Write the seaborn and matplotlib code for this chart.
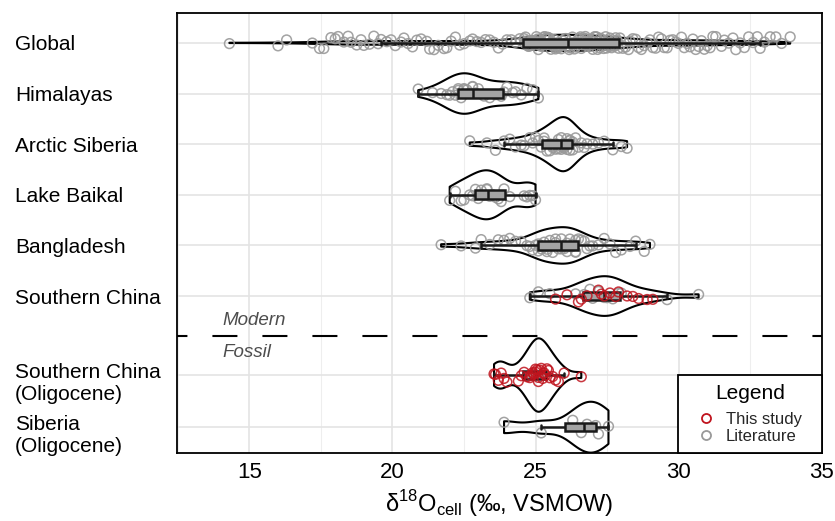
import numpy as np
import pandas as pd
import matplotlib
matplotlib.use("Agg")
import matplotlib.pyplot as plt
from matplotlib.lines import Line2D
from matplotlib.patches import Rectangle
from matplotlib.ticker import MultipleLocator
import seaborn as sns

# d18O of cellulose (permil, VSMOW)
regions = ["Global", "Himalayas", "Arctic Siberia", "Lake Baikal", "Bangladesh",
           "Southern China", "Southern China\n(Oligocene)", "Siberia\n(Oligocene)"]

global_lit = [
    14.3, 16.0, 16.3, 17.2, 17.45, 17.6, 17.85, 18.0, 18.1, 18.3, 18.45, 18.55, 18.75, 18.9,
    19.0, 19.2, 19.35, 19.5, 19.6, 19.8, 19.95, 20.1, 20.3, 20.4, 20.55, 20.7, 20.85, 21.0,
    21.2, 21.3, 21.45, 21.6, 21.8, 21.9, 22.05, 22.2, 22.35, 22.5, 22.7, 22.8, 22.95, 23.1,
    23.25, 23.4, 23.55, 23.7, 23.85, 24.0, 24.15, 24.3, 24.45,
    24.6, 24.62, 24.65, 24.68, 24.7, 24.73, 24.76, 24.8, 24.82, 24.85, 24.88, 24.9, 24.94,
    24.97, 25.0, 25.03, 25.06, 25.1, 25.12, 25.15, 25.18, 25.2, 25.24, 25.27, 25.3, 25.33,
    25.36, 25.4, 25.42, 25.45, 25.48, 25.5, 25.54, 25.57, 25.6, 25.63, 25.66, 25.7, 25.72,
    25.75, 25.78, 25.8, 25.84, 25.87, 25.9, 25.93, 25.96, 26.0, 26.03, 26.06, 26.1,
    26.15, 26.18, 26.22, 26.25, 26.29, 26.32, 26.36, 26.4, 26.43, 26.46, 26.5, 26.53, 26.57,
    26.6, 26.64, 26.67, 26.7, 26.74, 26.78, 26.81, 26.85, 26.88, 26.92, 26.95, 27.0, 27.03,
    27.06, 27.1, 27.13, 27.17, 27.2, 27.24, 27.27, 27.31, 27.35, 27.38, 27.42, 27.45, 27.49,
    27.52, 27.56, 27.6, 27.63, 27.66, 27.7, 27.73, 27.77, 27.8, 27.84, 27.87, 27.9,
    27.95, 28.05, 28.15, 28.25, 28.3, 28.4, 28.5, 28.6, 28.7, 28.8, 28.9, 29.0, 29.1, 29.2,
    29.3, 29.4, 29.5, 29.6, 29.7, 29.8, 29.9, 30.0, 30.1, 30.2, 30.3, 30.4, 30.5, 30.6, 30.7,
    30.8, 30.9, 31.0, 31.1, 31.2, 31.3, 31.5, 31.6, 31.75, 31.9, 32.0, 32.15, 32.3, 32.45,
    32.6, 32.75, 32.85, 33.0, 33.2, 33.4, 33.6, 33.9,
]
himalayas_lit = [
    20.9, 21.4, 21.7, 21.9, 22.0, 22.1, 22.2, 22.3, 22.3, 22.4, 22.5, 22.5, 22.6, 22.7, 22.8,
    22.8, 22.9, 23.0, 23.2, 23.4, 23.6, 23.8, 23.9, 24.0, 24.2, 24.3, 24.5, 24.7, 24.9, 25.1,
]
arctic_siberia_lit = [
    22.7, 23.3, 23.6, 23.9, 24.1, 24.3, 24.5, 24.6, 24.8, 24.9, 25.0, 25.1, 25.2, 25.3, 25.3,
    25.4, 25.5, 25.5, 25.6, 25.6, 25.7, 25.7, 25.8, 25.8, 25.9, 25.9, 25.9, 26.0, 26.0, 26.0,
    26.0, 26.1, 26.1, 26.1, 26.2, 26.2, 26.2, 26.3, 26.3, 26.4, 26.5, 26.6, 26.7, 26.8, 27.0,
    27.2, 27.4, 27.7, 28.0, 28.2,
]
lake_baikal_lit = [
    22.0, 22.2, 22.4, 22.5, 22.7, 22.8, 22.9, 23.0, 23.1, 23.2, 23.3, 23.3, 23.4, 23.5, 23.6,
    23.7, 23.8, 23.9, 24.1, 24.6, 24.7, 24.8, 24.9, 25.0,
]
bangladesh_lit = [
    21.7, 22.4, 22.9, 23.1, 23.4, 23.7, 23.9, 24.1, 24.3, 24.5, 24.7, 24.8, 24.9, 25.0,
    25.1, 25.1, 25.2, 25.2, 25.3, 25.3, 25.4, 25.4, 25.5, 25.5, 25.6, 25.7, 25.7, 25.8,
    25.9, 25.9, 26.0, 26.0, 26.0, 26.1, 26.1, 26.2, 26.2, 26.3, 26.3, 26.4, 26.4, 26.4,
    26.5, 26.6, 26.7, 26.8, 26.9, 27.0, 27.2, 27.4, 27.6, 27.8, 28.0, 28.3, 28.5, 28.8, 29.0,
]
south_china_lit = [24.8, 25.1, 25.5, 26.4, 26.7, 26.9, 27.0, 27.2, 27.4, 27.5, 27.7, 27.9, 28.0, 29.6, 30.7]
south_china_study = [25.7, 26.1, 26.5, 26.6, 26.8, 27.2, 27.3, 27.4, 27.6, 27.8, 27.9, 28.2, 28.4, 28.6, 28.9, 29.1]
south_china_olig_study = [
    23.55, 23.6, 23.7, 23.8, 23.9, 24.0, 24.4, 24.5, 24.6, 24.7, 24.8, 24.85, 24.9, 24.95, 25.0,
    25.0, 25.05, 25.1, 25.1, 25.15, 25.2, 25.25, 25.3, 25.35, 25.4, 25.45, 25.5, 25.6, 25.7, 25.8,
    26.0, 26.6,
]
siberia_olig_lit = [23.9, 25.2, 26.3, 26.6, 26.8, 27.1, 27.2, 27.55]

groups = [
    ("Global", "Literature", global_lit),
    ("Himalayas", "Literature", himalayas_lit),
    ("Arctic Siberia", "Literature", arctic_siberia_lit),
    ("Lake Baikal", "Literature", lake_baikal_lit),
    ("Bangladesh", "Literature", bangladesh_lit),
    ("Southern China", "Literature", south_china_lit),
    ("Southern China", "This study", south_china_study),
    ("Southern China\n(Oligocene)", "This study", south_china_olig_study),
    ("Siberia\n(Oligocene)", "Literature", siberia_olig_lit),
]
rows = []
for region, source, vals in groups:
    for v in vals:
        rows.append({"region": region, "source": source, "value": v})
df = pd.DataFrame(rows)

# layout: row positions (fossil rows sit a bit lower, below the divider)
row_pos = dict(zip(regions, [0, 1, 2, 3, 4, 5, 6.56, 7.59]))
df["pos"] = df["region"].map(row_pos)

red = "#c0141e"
grey = "#999999"


def nrd0(kde):
    # R's default bandwidth (bw.nrd0) expressed as a scipy kde factor
    x = kde.dataset[0]
    sd = x.std(ddof=1)
    iqr = np.subtract(*np.percentile(x, [75, 25]))
    lo = min(sd, iqr / 1.34) if iqr > 0 else sd
    return 0.9 * lo * len(x) ** -0.2 / sd


sns.set_theme(style="whitegrid")
plt.rcParams["font.family"] = ["Liberation Sans", "DejaVu Sans"]
plt.rcParams["mathtext.fontset"] = "custom"
plt.rcParams["mathtext.rm"] = "Liberation Sans"

fig = plt.figure(figsize=(8.35, 5.21), dpi=100)
ax = fig.add_axes([0.212, 0.1305, 0.772, 0.8445])

sns.violinplot(data=df, x="value", y="pos", orient="y", native_scale=True,
               fill=False, color="black", linewidth=1.5, inner=None, cut=0,
               density_norm="area", width=1.45, bw_method=nrd0, ax=ax)


def native_width(d):
    p = np.sort(d["pos"].unique())
    return np.diff(p).min() if len(p) > 1 else 1.0


np.random.seed(3)
lit = df[df["source"] == "Literature"]
sns.stripplot(data=lit, x="value", y="pos", orient="y", native_scale=True,
              jitter=0.14 / native_width(lit), size=7, facecolor="none",
              edgecolor=grey, linewidth=1.1, alpha=0.9, zorder=2, ax=ax)

sns.boxplot(data=df, x="value", y="pos", orient="y", native_scale=True,
            width=0.17, showfliers=False, color="#a4a4a4", linecolor="#1a1a1a",
            linewidth=1.8, zorder=3, ax=ax)

study = df[df["source"] == "This study"]
sns.stripplot(data=study, x="value", y="pos", orient="y", native_scale=True,
              jitter=0.14 / native_width(study), size=7, facecolor="none",
              edgecolor=red, linewidth=1.1, alpha=0.85, zorder=4, ax=ax)

# modern / fossil divider
ax.axhline(5.79, color="black", lw=1.5, linestyle=(7, (12, 12)), zorder=5)
ax.text(14.05, 5.49, "Modern", style="italic", color="#4d4d4d", fontsize=13.5, va="center")
ax.text(14.05, 6.11, "Fossil", style="italic", color="#4d4d4d", fontsize=13.5, va="center")

ax.set_xlim(12.47, 35)
ax.set_ylim(8.1, -0.59)
ax.set_xticks([15, 20, 25, 30, 35])
ax.xaxis.set_minor_locator(MultipleLocator(2.5))

# single-line names on the major ticks, two-line names slightly lower on minor ticks
ypos = [row_pos[r] for r in regions]
ax.set_yticks(ypos)
ax.set_yticklabels([r if "\n" not in r else "" for r in regions])
two_line = [r for r in regions if "\n" in r]
ax.set_yticks([row_pos[r] + 0.1 for r in two_line], minor=True)
ax.set_yticklabels(two_line, minor=True)
for lab in ax.get_yticklabels() + ax.get_yticklabels(minor=True):
    lab.set_horizontalalignment("left")
ax.tick_params(axis="y", which="major", length=3, width=1, color="black", pad=113.6,
               labelsize=15, labelcolor="black")
ax.tick_params(axis="y", which="minor", length=0, pad=116.6, labelsize=15, labelcolor="black")
ax.tick_params(axis="x", which="major", length=3, width=1, color="black", labelsize=16, labelcolor="black")
ax.tick_params(axis="x", which="minor", length=0)

ax.grid(True, which="major", color="#e4e4e4", lw=1.2)
ax.grid(True, which="minor", axis="x", color="#eeeeee", lw=0.8)
ax.grid(False, which="minor", axis="y")
ax.set_axisbelow(True)
for s in ax.spines.values():
    s.set_color("black")
    s.set_linewidth(1.3)

ax.set_xlabel(r"δ$^{18}$O$_{\mathrm{cell}}$ (‰, VSMOW)", fontsize=17, color="black", labelpad=4)
ax.set_ylabel("")

# legend: framed box in the lower-right corner
ax.add_patch(Rectangle((0.777, 0.0), 0.223, 0.177, transform=ax.transAxes,
                       facecolor="white", edgecolor="black", lw=1.3, zorder=9, clip_on=False))
ax.text(0.8885, 0.136, "Legend", transform=ax.transAxes, ha="center", va="center",
        fontsize=15, color="black", zorder=10)
handles = [
    Line2D([], [], ls="none", marker="o", mfc="none", mec=red, ms=6.5, mew=1.3, label="This study"),
    Line2D([], [], ls="none", marker="o", mfc="none", mec=grey, ms=6.5, mew=1.3, label="Literature"),
]
leg = ax.legend(handles=handles, loc="center", bbox_to_anchor=(0.8885, 0.057),
                borderaxespad=0, borderpad=0, frameon=False, fontsize=12,
                handletextpad=0.7, labelspacing=0.1, handlelength=1.0)
leg.set_zorder(10)

fig.savefig("out.png", dpi=100)
